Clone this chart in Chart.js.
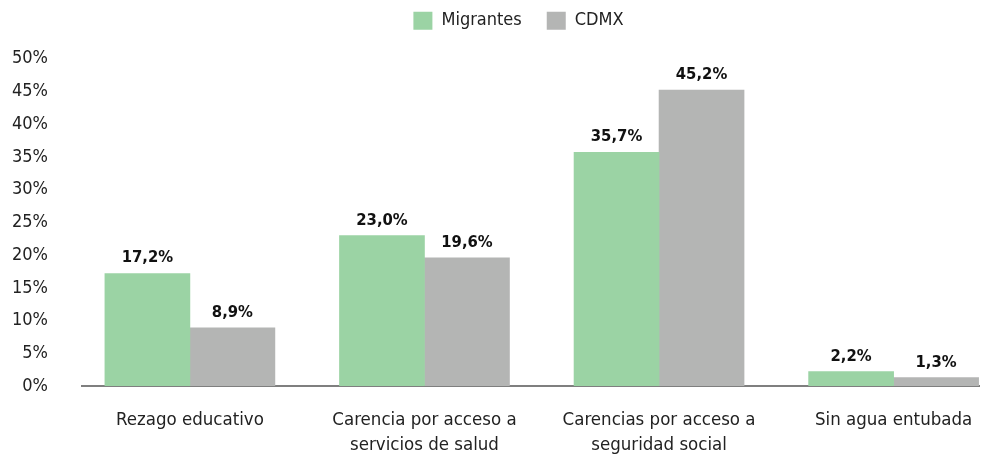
<!DOCTYPE html>
<html>
<head>
<meta charset="utf-8">
<script src="https://cdn.jsdelivr.net/npm/chart.js@4/dist/chart.umd.min.js"></script>
<style>
  html, body { margin: 0; padding: 0; background: #fff; }
  #wrap { width: 988px; height: 457px; }
</style>
</head>
<body>
<div id="wrap"><canvas id="carenciasChart"></canvas></div>
<script>
var categories = [
  "Rezago educativo",
  ["Carencia por acceso a", "servicios de salud"],
  ["Carencias por acceso a", "seguridad social"],
  "Sin agua entubada",
];
var migrantes = [17.2, 23.0, 35.7, 2.2];
var cdmx = [8.9, 19.6, 45.2, 1.3];
var yTicks = [0, 5, 10, 15, 20, 25, 30, 35, 40, 45, 50];

var FONT = "'DejaVu Sans Condensed', 'Liberation Sans Narrow', sans-serif";
var TEXT = "#222222";

var canvas = document.getElementById("carenciasChart");
var ctx = canvas.getContext("2d");

// value labels above each bar, e.g. "17,2%"
var barLabelPlugin = {
  id: "barLabels",
  afterDatasetsDraw: function (chart) {
    var c = chart.ctx;
    c.save();
    c.font = "bold 16.5px " + FONT;
    c.fillStyle = "#111111";
    c.textAlign = "center";
    c.textBaseline = "bottom";
    chart.data.datasets.forEach(function (ds, di) {
      var meta = chart.getDatasetMeta(di);
      meta.data.forEach(function (bar, i) {
        var txt = ds.data[i].y.toFixed(1).replace(".", ",") + "%";
        c.fillText(txt, bar.x, bar.y - 7);
      });
    });
    c.restore();
  },
};

// nudge the legend so it sits where the original one is
var legendShiftPlugin = {
  id: "legendShift",
  afterLayout: function (chart) {
    var lg = chart.legend;
    lg.left += 29;
    lg.right += 29;
    lg.top -= 5;
    lg.bottom -= 5;
  },
};

function points(arr) {
  return arr.map(function (v, i) {
    return { x: i, y: v };
  });
}

var chart = new Chart(ctx, {
  type: "bar",
  data: {
    datasets: [
      {
        label: "Migrantes",
        data: points(migrantes),
        backgroundColor: "#9bd3a4",
        borderWidth: 0,
        barThickness: 85,
      },
      {
        label: "CDMX",
        data: points(cdmx),
        backgroundColor: "#b4b5b4",
        borderWidth: 0,
        barThickness: 85,
      },
    ],
  },
  options: {
    responsive: true,
    maintainAspectRatio: false,
    animation: false,
    layout: {
      padding: { top: -20, right: 9, bottom: -23, left: 0 },
    },
    plugins: {
      tooltip: { enabled: false },
      legend: {
        position: "top",
        labels: {
          boxWidth: 19,
          boxHeight: 18,
          padding: 25,
          color: TEXT,
          font: { family: FONT, size: 18 },
        },
      },
    },
    scales: {
      x: {
        type: "linear",
        bounds: "data",
        offset: false,
        min: -0.46,
        max: 3.364,
        z: 1,
        grid: { display: false, drawTicks: false },
        border: { display: true, color: "#7f7f7f", width: 2 },
        afterBuildTicks: function (scale) {
          scale.ticks = categories.map(function (c, i) {
            return { value: i };
          });
        },
        afterFit: function (scale) {
          scale.paddingLeft = 0;
          scale.paddingRight = 0;
        },
        ticks: {
          autoSkip: false,
          maxRotation: 0,
          padding: 22,
          color: TEXT,
          font: { family: FONT, size: 18.5, lineHeight: 1.35 },
          callback: function (value) {
            return categories[value];
          },
        },
      },
      y: {
        min: 0,
        max: 52.13,
        grid: { display: false, drawTicks: false },
        border: { display: false },
        afterFit: function (scale) {
          scale.width = 82;
        },
        afterBuildTicks: function (scale) {
          scale.ticks = yTicks.map(function (v) {
            return { value: v };
          });
        },
        ticks: {
          padding: 34,
          color: TEXT,
          font: { family: FONT, size: 18 },
          callback: function (value) {
            return value + "%";
          },
        },
      },
    },
  },
  plugins: [barLabelPlugin, legendShiftPlugin],
});
</script>
</body>
</html>
